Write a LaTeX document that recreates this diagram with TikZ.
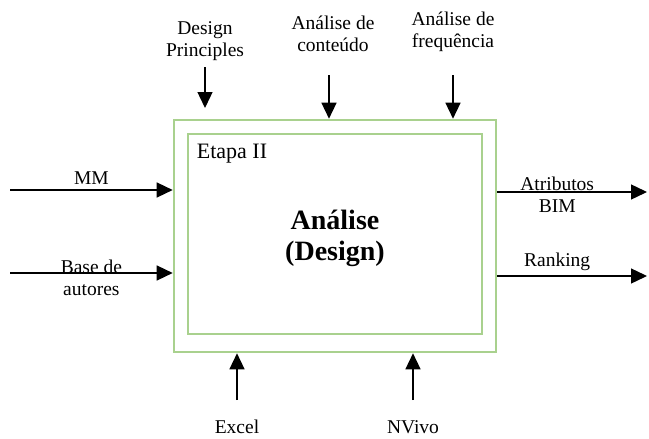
\documentclass[tikz,border=0pt]{standalone}
\usepackage{fontspec}
\setmainfont{Liberation Serif}
\usetikzlibrary{arrows.meta, positioning}
\definecolor{etgreen}{HTML}{A9D18E}
\definecolor{ettext}{HTML}{000000}
\tikzset{
  outerbox/.style={rectangle, draw=etgreen, line width=2.6pt, fill=white,
              minimum width=322pt, minimum height=232pt},
  innerbox/.style={rectangle, draw=etgreen, line width=2.6pt,
              minimum width=294pt, minimum height=200pt},
  lbl/.style={font=\fontsize{19.5}{21.5}\selectfont, text=ettext, align=center, inner sep=1pt},
  stagelbl/.style={font=\fontsize{22}{24}\selectfont, text=ettext, inner sep=0pt},
  title/.style={font=\fontsize{28}{31}\selectfont\bfseries, text=ettext, align=center},
  flow/.style={-{Triangle[length=16pt, width=15pt]}, draw=ettext, line width=1.4pt},
}

\begin{document}
\begin{tikzpicture}[x=1pt, y=-1pt]
    \useasboundingbox (0,0) rectangle (649,439);
    % stage box
    \node[outerbox] (outer) at (335,236) {};
    \node[innerbox] (inner) at (335,234) {};
    \node[stagelbl, anchor=north west, xshift=10pt, yshift=-11pt] (etapa) at (inner.north west) {Etapa II};
    \node[title, yshift=-4pt] (analise) at (inner.center) {Análise\\(Design)};
    % controls
    \node[lbl] (dp) at (205,41) {Design\\Principles};
    \node[lbl] (ac) at (333,34) {Análise de\\conteúdo};
    \node[lbl] (af) at (453,32) {Análise de\\frequência};
    \coordinate (dptop) at (205,67);
    \coordinate (dptip) at (205,108);
    \coordinate (actop) at (329,75);
    \coordinate (aftop) at (453,75);
    \draw[flow] (dptop) -- (dptip);
    \draw[flow] (actop) -- (actop |- outer.north);
    \draw[flow] (aftop) -- (aftop |- outer.north);
    % inputs
    \coordinate (mmstart) at (10,190);
    \coordinate (basestart) at (10,273);
    \draw[flow] (mmstart) -- node[lbl, above=4pt, pos=0.5] (mm) {MM} (mmstart -| outer.west);
    \draw[flow] (basestart) -- node[lbl, pos=0.5, yshift=-5pt] (base) {Base de\\autores} (basestart -| outer.west);
    % outputs
    \coordinate (bimend) at (647,192);
    \coordinate (rankend) at (647,276);
    \draw[flow] (bimend -| outer.east) -- node[lbl, pos=0.4, yshift=-3pt] (bim) {Atributos\\BIM} (bimend);
    \draw[flow] (rankend -| outer.east) -- node[lbl, pos=0.4, above=4pt] (rank) {Ranking} (rankend);
    % mechanisms
    \coordinate (excstart) at (237,400);
    \coordinate (nvstart) at (413,400);
    \draw[flow] (excstart) -- (excstart |- outer.south);
    \draw[flow] (nvstart) -- (nvstart |- outer.south);
    \node[lbl] (excel) at (237,427) {Excel};
    \node[lbl] (nvivo) at (413,427) {NVivo};
\end{tikzpicture}
\end{document}
